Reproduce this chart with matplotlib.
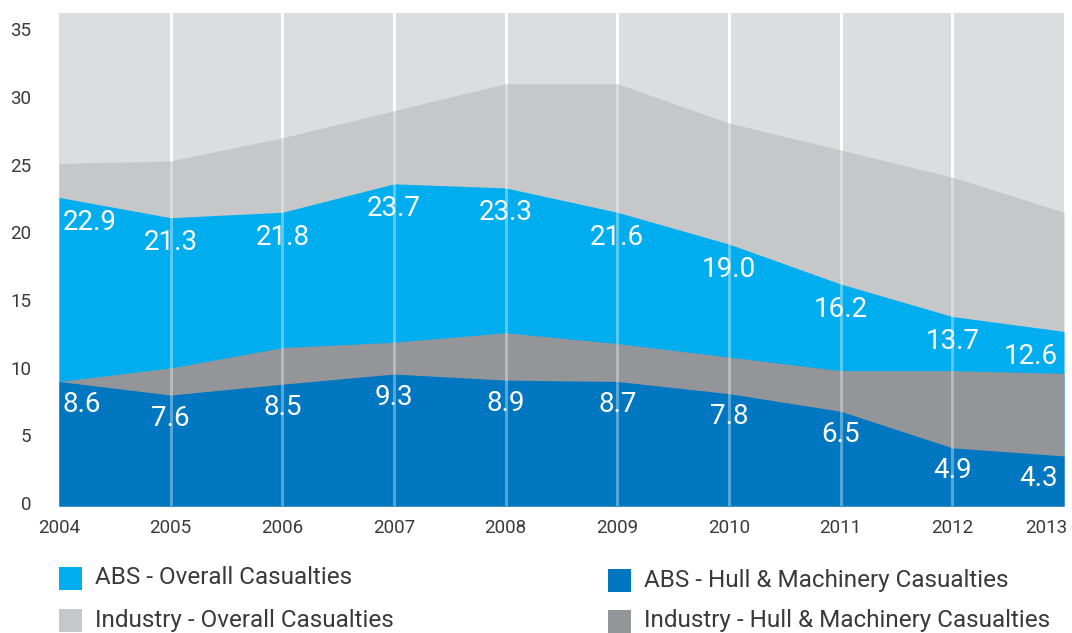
import matplotlib
matplotlib.use("Agg")
import matplotlib.pyplot as plt
from matplotlib.patches import Rectangle
from matplotlib.transforms import ScaledTranslation

plt.rcParams['font.family'] = ['Roboto', 'DejaVu Sans']

years = [2004, 2005, 2006, 2007, 2008, 2009, 2010, 2011, 2012, 2013]
industry_overall = [25.3, 25.5, 27.2, 29.2, 31.2, 31.2, 28.3, 26.3, 24.3, 21.7]
abs_overall = [22.8, 21.3, 21.7, 23.8, 23.5, 21.7, 19.35, 16.4, 14.0, 12.9]
industry_hm = [9.2, 10.2, 11.7, 12.1, 12.8, 12.0, 11.0, 10.0, 10.0, 9.8]
abs_hm = [9.2, 8.2, 9.0, 9.75, 9.3, 9.2, 8.3, 7.0, 4.3, 3.7]
abs_overall_labels = ['22.9', '21.3', '21.8', '23.7', '23.3', '21.6', '19.0', '16.2', '13.7', '12.6']
abs_hm_labels = ['8.6', '7.6', '8.5', '9.3', '8.9', '8.7', '7.8', '6.5', '4.9', '4.3']

c_bg = '#dcdde0'
c_ind = '#c6c7c9'
c_abs = '#00aeef'
c_ind_hm = '#939598'
c_abs_hm = '#0077c0'
c_text = '#3a3a3a'

fig = plt.figure(figsize=(10.72, 6.33), dpi=100)
ax = fig.add_axes([0.055, 0.2006, 0.9375, 0.7784])
ax.set_facecolor(c_bg)

# solid white year lines behind the areas
for y in years[1:-1]:
    ax.axvline(y, color='white', lw=2.2, zorder=0.5)

ax.fill_between(years, 0, industry_overall, color=c_ind, lw=0, zorder=1)
ax.fill_between(years, 0, abs_overall, color=c_abs, lw=0, zorder=2)
ax.fill_between(years, 0, industry_hm, color=c_ind_hm, lw=0, zorder=3)
ax.fill_between(years, 0, abs_hm, color=c_abs_hm, lw=0, zorder=4)

# translucent lines on top
for y in years[1:-1]:
    ax.axvline(y, color='white', lw=2.2, alpha=0.35, zorder=5)

def put_labels(vals, labels, dy):
    for i, (x, v, t) in enumerate(zip(years, vals, labels)):
        ha, dx = 'center', 0
        if i == 0:
            ha, dx = 'left', 4
        elif i == len(years) - 1:
            ha, dx = 'right', -6
        ax.annotate(t, (x, v), xytext=(dx, dy), textcoords='offset pixels',
                    ha=ha, va='center', color='white', fontsize=20, zorder=6)

put_labels(abs_overall, abs_overall_labels, -25)
put_labels(abs_hm, abs_hm_labels, -23)

ax.set_xlim(2004, 2013)
ax.set_ylim(0, 36.4)
ax.set_xticks(years)
ax.set_yticks(range(0, 36, 5))
ax.tick_params(length=0, labelsize=13.5, labelcolor=c_text)
ax.tick_params(axis='y', pad=20)
ax.tick_params(axis='x', pad=9)
for lab in ax.get_yticklabels():
    lab.set_transform(lab.get_transform() + ScaledTranslation(0, 3 / 100, fig.dpi_scale_trans))
last = ax.get_xticklabels()[-1]
last.set_horizontalalignment('right')
last.set_transform(last.get_transform() + ScaledTranslation(3 / 100, 0, fig.dpi_scale_trans))
for s in ax.spines.values():
    s.set_visible(False)

# legend drawn by hand
legend_items = [
    ('ABS - Overall Casualties', c_abs, 59, 578),
    ('Industry - Overall Casualties', c_ind, 59, 620),
    ('ABS - Hull & Machinery Casualties', c_abs_hm, 608, 580),
    ('Industry - Hull & Machinery Casualties', c_ind_hm, 608, 621),
]
W, H = 1072, 633
for txt, col, px, py in legend_items:
    fig.add_artist(Rectangle((px / W, (H - py - 12) / H), 23 / W, 23 / H,
                             transform=fig.transFigure, color=col, lw=0))
    fig.text((px + 36) / W, (H - py) / H, txt, ha='left', va='center',
             fontsize=17.5, color=c_text)

fig.savefig('out.png', dpi=100)
